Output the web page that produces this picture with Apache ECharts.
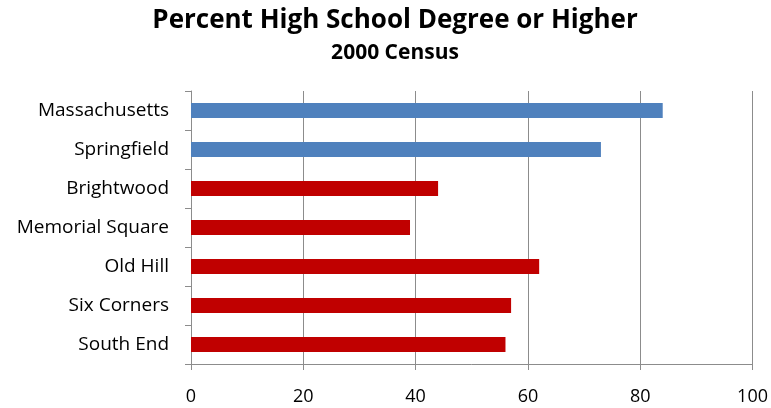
<!DOCTYPE html>
<html>
<head>
<meta charset="utf-8">
<script src="https://cdn.jsdelivr.net/npm/echarts@6/dist/echarts.min.js"></script>
<style>
  html, body { margin: 0; padding: 0; background: #fff; }
  #main { width: 771px; height: 408px; }
</style>
</head>
<body>
<div id="main"></div>
<script>
var categories = ['Massachusetts', 'Springfield', 'Brightwood', 'Memorial Square', 'Old Hill', 'Six Corners', 'South End'];
var values = [84, 73, 44, 39, 62, 57, 56];
var xTicks = [0, 20, 40, 60, 80, 100];

var myChart = echarts.init(document.getElementById('main'));

var option = {
    backgroundColor: '#fff',
    title: [
        {
            text: 'Percent High School Degree or Higher',
            left: 390,
            textAlign: 'center',
            top: 3,
            textStyle: { fontFamily: 'Open Sans', fontSize: 26, fontWeight: 'bold', color: '#000' }
        },
        {
            text: '2000 Census',
            left: 390,
            textAlign: 'center',
            top: 38,
            textStyle: { fontFamily: 'Open Sans', fontSize: 21, fontWeight: 'bold', color: '#000' }
        }
    ],
    grid: {
        left: 191,
        right: 18,
        top: 91,
        bottom: 44
    },
    xAxis: {
        type: 'value',
        min: xTicks[0],
        max: xTicks[xTicks.length - 1],
        interval: 20,
        axisLine: { show: true, lineStyle: { color: '#8c8c8c' } },
        axisTick: { show: true, length: 6, lineStyle: { color: '#8c8c8c' } },
        axisLabel: { fontFamily: 'Open Sans', fontSize: 18, color: '#000', margin: 24 },
        splitLine: { show: true, lineStyle: { color: '#8c8c8c' } }
    },
    yAxis: {
        type: 'category',
        inverse: true,
        data: categories,
        axisLine: { show: true, lineStyle: { color: '#8c8c8c' } },
        axisTick: { show: true, length: 6, lineStyle: { color: '#8c8c8c' } },
        axisLabel: { fontFamily: 'Open Sans', fontSize: 19, color: '#000', margin: 22 }
    },
    series: [
        {
            type: 'bar',
            data: values,
            barWidth: 15,
            itemStyle: {
                color: function (p) { return p.dataIndex < 2 ? '#4f81bd' : '#c00000'; }
            }
        }
    ]
};

myChart.setOption(option);
</script>
</body>
</html>
